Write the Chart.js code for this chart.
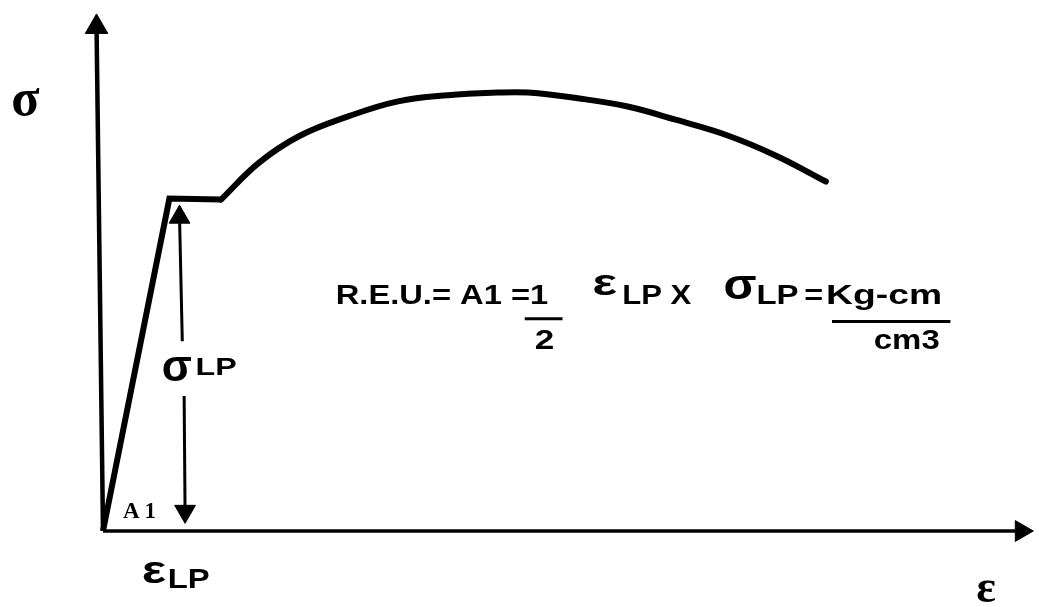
<!DOCTYPE html>
<html>
<head>
<meta charset="utf-8">
<script src="https://cdn.jsdelivr.net/npm/chart.js@4.4.1/dist/chart.umd.min.js"></script>
<style>
  html, body { margin: 0; padding: 0; background: #ffffff; }
  #wrap { width: 1039px; height: 607px; position: relative; }
</style>
</head>
<body>
<div id="wrap"><canvas id="chart"></canvas></div>
<script>
// Stress–strain curve: strain ε (horizontal) and stress σ (vertical), arbitrary units
const strain = [0, 7.2, 12.8, 16.9, 21.3, 26.6, 32.0, 37.4, 42.8, 46.1, 51.5, 56.9, 62.2, 67.6, 73.0, 78.4];
const stress = [0, 64.3, 64.1, 71.2, 76.4, 80.2, 83.1, 84.3, 84.8, 84.8, 83.7, 82.1, 79.5, 76.6, 72.6, 67.6];
// last index of the straight elastic + yield plateau part
const plateauEnd = 2;

// Axis lines (start and arrow end)
const sigmaAxisX = [0, -0.7];
const sigmaAxisY = [0, 97.5];
const strainAxisX = [0, 99.6];
const strainAxisY = [0, 0];

// σLP dimension arrow, split around its label
const limitUpperX = [8.6, 8.3];
const limitUpperY = [36.7, 60.7];
const limitLowerX = [8.8, 8.9];
const limitLowerY = [26.1, 3.8];

const pts = (xs, ys) => xs.map((x, i) => ({ x, y: ys[i] }));

const BLACK = '#000000';

function lineSet(data, width, opts = {}) {
  return Object.assign({
    data,
    borderColor: BLACK,
    backgroundColor: BLACK,
    borderWidth: width,
    tension: 0,
    fill: false,
    clip: false,
    pointRadius: 0,
    pointHoverRadius: 0,
    borderCapStyle: 'butt',
    borderJoinStyle: 'miter'
  }, opts);
}

function arrowSet(data, width, radii, rotations) {
  return lineSet(data, width, {
    pointStyle: 'triangle',
    pointRadius: radii,
    pointRotation: rotations,
    pointBackgroundColor: BLACK,
    pointBorderColor: BLACK,
    pointBorderWidth: 1
  });
}

// Text drawn on the chart, anchored in data units (x = left or centre, y = baseline)
const serif = '"Liberation Serif", "DejaVu Serif", serif';
const sans = '"Liberation Sans", Arial, sans-serif';
const textLabels = [
  { t: 'σ', x: -8.41, y: 80.42, font: `bold 52px ${serif}`, align: 'center' },
  { t: 'ε', x: 95.79, y: -13.82, font: `bold 46px ${serif}`, align: 'center' },
  { t: 'A1', x: 2.16, y: 2.50, font: `bold 23px ${serif}`, spacing: '5px' },
  { t: 'ε', x: 4.21, y: -9.98, font: `bold 38px ${sans}`, sx: 1.35 },
  { t: 'LP', x: 7.01, y: -10.94, font: `bold 28px ${sans}`, sx: 1.17 },
  { t: 'σ', x: 6.36, y: 28.98, font: `bold 44px ${sans}` },
  { t: 'LP', x: 10.03, y: 30.13, font: `bold 23px ${sans}`, sx: 1.4 },
  { t: 'R.E.U.= A1 =1', x: 25.24, y: 43.95, font: `bold 27px ${sans}`, sx: 1.21 },
  { t: '2', x: 46.82, y: 35.12, font: `bold 27px ${sans}`, sx: 1.3 },
  { t: 'ε', x: 53.07, y: 45.68, font: `bold 36px ${sans}`, sx: 1.45 },
  { t: 'LP X', x: 56.31, y: 43.95, font: `bold 27px ${sans}`, sx: 1.15 },
  { t: 'σ', x: 67.31, y: 44.91, font: `bold 42px ${sans}`, sx: 1.15 },
  { t: 'LP', x: 70.87, y: 43.95, font: `bold 27px ${sans}`, sx: 1.22 },
  { t: '=', x: 76.05, y: 43.95, font: `bold 27px ${sans}`, sx: 1.2 },
  { t: 'Kg-cm', x: 78.43, y: 43.95, font: `bold 27px ${sans}`, sx: 1.38 },
  { t: 'cm3', x: 83.6, y: 35.12, font: `bold 27px ${sans}`, sx: 1.22 }
];
// Fraction bars in the formula
const fractionBars = [
  { x0: 45.74, x1: 49.84, y: 41.07 },
  { x0: 79.07, x1: 91.91, y: 40.50 }
];

const annotationPlugin = {
  id: 'formulaText',
  afterDatasetsDraw(chart) {
    const { ctx, scales: { x, y } } = chart;
    ctx.save();
    ctx.fillStyle = BLACK;
    ctx.textBaseline = 'alphabetic';
    for (const l of textLabels) {
      ctx.save();
      ctx.font = l.font;
      ctx.textAlign = l.align || 'left';
      ctx.letterSpacing = l.spacing || '0px';
      ctx.translate(x.getPixelForValue(l.x), y.getPixelForValue(l.y));
      ctx.scale(l.sx || 1, 1);
      ctx.fillText(l.t, 0, 0);
      ctx.restore();
    }
    ctx.strokeStyle = BLACK;
    ctx.lineWidth = 3;
    for (const b of fractionBars) {
      const py = y.getPixelForValue(b.y);
      ctx.beginPath();
      ctx.moveTo(x.getPixelForValue(b.x0), py);
      ctx.lineTo(x.getPixelForValue(b.x1), py);
      ctx.stroke();
    }
    ctx.restore();
  }
};

const curve = pts(strain, stress);

new Chart(document.getElementById('chart'), {
  type: 'line',
  data: {
    datasets: [
      arrowSet(pts(sigmaAxisX, sigmaAxisY), 4.5, [0, 13], [0, 0]),
      arrowSet(pts(strainAxisX, strainAxisY), 3.5, [0, 12], [0, 90]),
      arrowSet(pts(limitUpperX, limitUpperY), 3, [0, 12], [0, 0]),
      arrowSet(pts(limitLowerX, limitLowerY), 3, [0, 12], [0, 180]),
      lineSet(curve.slice(0, plateauEnd + 1), 6),
      lineSet(curve.slice(plateauEnd), 6, { tension: 0.4, borderCapStyle: 'round' })
    ]
  },
  options: {
    responsive: true,
    maintainAspectRatio: false,
    animation: false,
    events: [],
    layout: { padding: { left: 103, right: 9, top: 10, bottom: 76 } },
    plugins: { legend: { display: false }, tooltip: { enabled: false } },
    scales: {
      x: { type: 'linear', min: 0, max: 100, display: false },
      y: { type: 'linear', min: 0, max: 100, display: false }
    }
  },
  plugins: [annotationPlugin]
});
</script>
</body>
</html>
